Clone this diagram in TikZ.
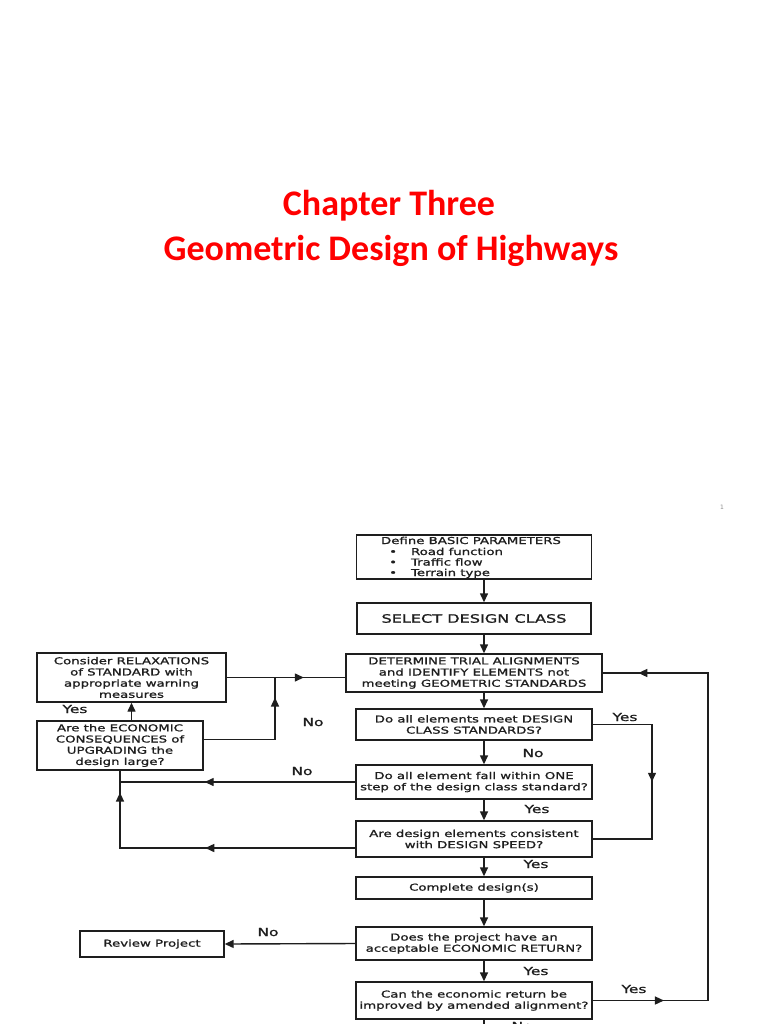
\documentclass[tikz,border=0pt]{standalone}
\usepackage{fontspec}
\setmainfont{DejaVu Sans}
\newfontfamily\titlefont{Carlito}
\newfontfamily\flowfont[FakeStretch=1.4,FakeBold=1.2]{DejaVu Sans}
\usetikzlibrary{arrows.meta,decorations.markings}
\definecolor{ink}{HTML}{1E1E1E}
\tikzset{
  >={Triangle[length=9pt,width=8pt]},
  box/.style={draw=ink, line width=1.4pt, inner sep=0pt, align=center, text=ink,
    font=\flowfont\fontsize{9.5}{11.2}\selectfont},
  txt/.style={inner sep=0pt, text=ink, font=\flowfont\fontsize{9.5}{10.5}\selectfont},
  lab/.style={inner sep=0pt, anchor=base, text=ink, font=\flowfont\fontsize{11}{13}\selectfont},
  conn/.style={draw=ink, line width=1.4pt},
  arr/.style={conn, ->},
  markat/.style={postaction={decorate}, decoration={markings, mark=at position #1 with {\arrow{>}}}},
  markattwo/.style 2 args={postaction={decorate}, decoration={markings,
      mark=at position #1 with {\arrow{>}}, mark=at position #2 with {\arrow{>}}}},
  ttl/.style={inner sep=0pt, anchor=base, text=red, font=\titlefont\bfseries\fontsize{36}{45}\selectfont}
}
\begin{document}
\begin{tikzpicture}[x=1pt, y=-1pt]
\fill[white] (0,0) rectangle (768,1024);
\useasboundingbox (0,0) rectangle (768,1024);

% title
\node[ttl] (t1) at (389,215) {Chapter Three};
\node[ttl] (t2) at (391,260) {Geometric Design of Highways};
\node[inner sep=0pt, text=black!45, font=\fontsize{6}{7}\selectfont] (pg) at (722,507) {1};

% main column
\node[box, minimum width=235pt, minimum height=44pt] (b1) at (474,557) {};
\node[txt, anchor=base] (b1t) at (471,544) {Define BASIC PARAMETERS};
\node[txt, anchor=base west] (b1l) at (389,555)
  {\begin{tabular}[t]{@{}l@{\hspace{14pt}}l@{}}•&Road function\\•&Traffic flow\\•&Terrain type\end{tabular}};

\node[box, minimum width=234pt, minimum height=31pt, font=\flowfont\fontsize{11.5}{13}\selectfont] (b2) at (474,618.5) {SELECT DESIGN CLASS};
\node[box, minimum width=256pt, minimum height=38pt] (b3) at (474,673)
  {DETERMINE TRIAL ALIGNMENTS\\and IDENTIFY ELEMENTS not\\meeting GEOMETRIC STANDARDS};
\node[box, minimum width=236pt, minimum height=31pt] (b4) at (474,724.5)
  {Do all elements meet DESIGN\\CLASS STANDARDS?};
\node[box, minimum width=236pt, minimum height=34pt] (b5) at (474,782)
  {Do all element fall within ONE\\step of the design class standard?};
\node[box, minimum width=236pt, minimum height=36pt] (b6) at (474,839)
  {Are design elements consistent\\with DESIGN SPEED?};
\node[box, minimum width=236pt, minimum height=22pt] (b7) at (474,888)
  {Complete design(s)};
\node[box, minimum width=236pt, minimum height=33pt] (b8) at (474,943.5)
  {Does the project have an\\acceptable ECONOMIC RETURN?};
\node[box, minimum width=236pt, minimum height=37pt] (b9) at (474,1000.5)
  {Can the economic return be\\improved by amended alignment?};

% left boxes
\node[box, minimum width=189pt, minimum height=49pt] (A) at (131.5,677.5)
  {Consider RELAXATIONS\\of STANDARD with\\appropriate warning\\measures};
\node[box, minimum width=166pt, minimum height=49pt] (B) at (120,745.5)
  {Are the ECONOMIC\\CONSEQUENCES of\\UPGRADING the\\design large?};
\node[box, minimum width=144pt, minimum height=26pt] (R) at (152,944)
  {Review Project};

% main column arrows
\draw[arr] ([xshift=10pt]b1.south) -- ([xshift=10pt]b2.north);
\draw[arr] ([xshift=10pt]b2.south) -- ([xshift=10pt]b3.north);
\draw[arr] ([xshift=10pt]b3.south) -- ([xshift=10pt]b4.north);
\draw[arr] ([xshift=10pt]b4.south) -- ([xshift=10pt]b5.north);
\draw[arr] ([xshift=10pt]b5.south) -- ([xshift=10pt]b6.north);
\draw[arr] ([xshift=10pt]b6.south) -- ([xshift=10pt]b7.north);
\draw[arr] ([xshift=10pt]b7.south) -- ([xshift=10pt]b8.north);
\draw[arr] ([xshift=10pt]b8.south) -- ([xshift=10pt]b9.north);
\draw[conn] ([xshift=10pt]b9.south) -- ++(0,12);

% right connectors
\coordinate (yr) at (652,0);
\draw[conn, markat=0.5] (b4.east) -| (yr |- b6.east) -- (b6.east);
\coordinate (lr) at (708,0);
\draw[conn, markattwo={0.13}{0.935}] (b9.east) -- (b9.east -| lr) -- (lr |- b3.east) -- (b3.east);

% left connectors
\draw[conn, markat=0.64] (b5.west) -- (b5.west -| B.south);
\draw[conn, markattwo={0.48}{0.93}] ([yshift=-9pt]b6.west) -| (B.south);
\draw[arr] (A.south |- B.north) -- (A.south);
\coordinate (jx) at (275,0);
\draw[conn, markat=0.85] ([yshift=6pt]B.east) -| (jx |- A.east);
\draw[conn, markat=0.65] (A.east) -- (A.east -| b3.west);
\draw[arr] (b8.west) -- (R.east);

% labels
\node[lab] (l1) at (625,721) {Yes};
\node[lab] (l2) at (533,757) {No};
\node[lab] (l3) at (537,813) {Yes};
\node[lab] (l4) at (536,868) {Yes};
\node[lab] (l5) at (536,975) {Yes};
\node[lab] (l6) at (634,993) {Yes};
\node[lab] (l7) at (302,775) {No};
\node[lab] (l8) at (268,936) {No};
\node[lab] (l9) at (313,726) {No};
\node[lab] (l10) at (75,713) {Yes};
\node[lab] (l11) at (522,1030) {No};
\end{tikzpicture}
\end{document}
